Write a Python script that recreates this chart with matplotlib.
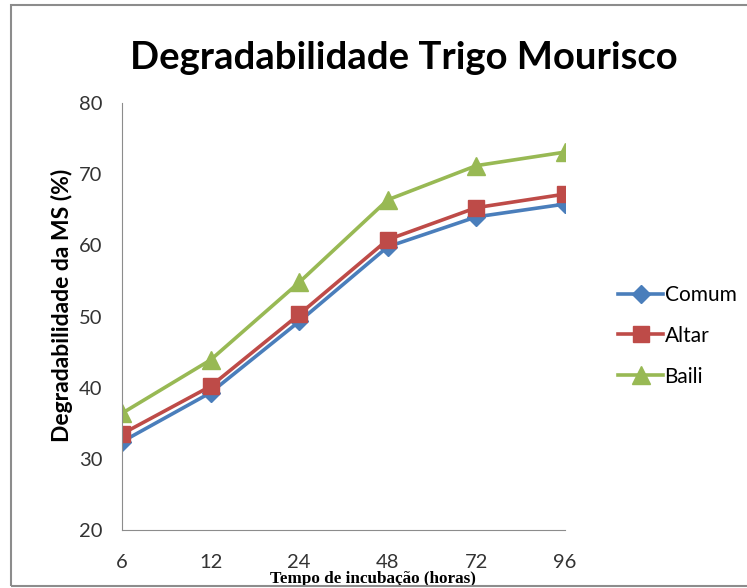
import matplotlib
matplotlib.use('Agg')
import matplotlib.pyplot as plt
from matplotlib.patches import Rectangle

# data
tempos = ['6', '12', '24', '48', '72', '96']
comum = [32.4, 39.3, 49.3, 59.8, 64.0, 65.8]
altar = [33.5, 40.2, 50.3, 60.8, 65.3, 67.2]
baili = [36.4, 43.9, 54.8, 66.4, 71.2, 73.1]

plt.rcParams['font.family'] = ['Lato', 'DejaVu Sans']

fig = plt.figure(figsize=(7.47, 5.88), dpi=100)
fig.patches.append(Rectangle((11 / 747, 2 / 588), 1.0, 581 / 588, transform=fig.transFigure,
                             fill=False, edgecolor='#8c8c8c', linewidth=1.5))

ax = fig.add_axes([122 / 747, 58 / 588, 443 / 747, 427 / 588])
x = list(range(len(tempos)))
ax.plot(x, comum, color='#4A7EBB', lw=2.6, marker='D', ms=9, label='Comum')
ax.plot(x, altar, color='#BE4B48', lw=2.6, marker='s', ms=11.5, label='Altar')
ax.plot(x, baili, color='#98B954', lw=2.6, marker='^', ms=13, label='Baili')

ax.set_xlim(0, 5)
ax.set_ylim(20, 80)
ax.set_yticks([20, 30, 40, 50, 60, 70, 80])
ax.set_xticks(x)
ax.set_xticklabels(tempos)
ax.tick_params(length=0, labelsize=14.5, colors='#333333')
ax.tick_params(axis='x', pad=17)
ax.tick_params(axis='y', pad=14)
for s in ['top', 'right']:
    ax.spines[s].set_visible(False)
for s in ['left', 'bottom']:
    ax.spines[s].set_color('#8c8c8c')

ax.set_ylabel('Degradabilidade da MS (%)', fontsize=16.5, fontweight='bold')
ax.yaxis.set_label_coords(-0.11, 0.527)
ax.set_xlabel('Tempo de incubação (horas)', fontsize=12.3, fontweight='bold',
              family=['Liberation Serif'])
ax.xaxis.set_label_coords(0.567, -0.097)
fig.suptitle('Degradabilidade Trigo Mourisco', fontsize=27.5, fontweight='bold',
             x=0.541, y=0.93)

ax.legend(loc='center left', bbox_to_anchor=(1.1, 0.455), frameon=False, fontsize=15,
          handlelength=2.2, labelspacing=1.0, handletextpad=0.05, borderaxespad=0)

fig.savefig('out.png', dpi=100)
